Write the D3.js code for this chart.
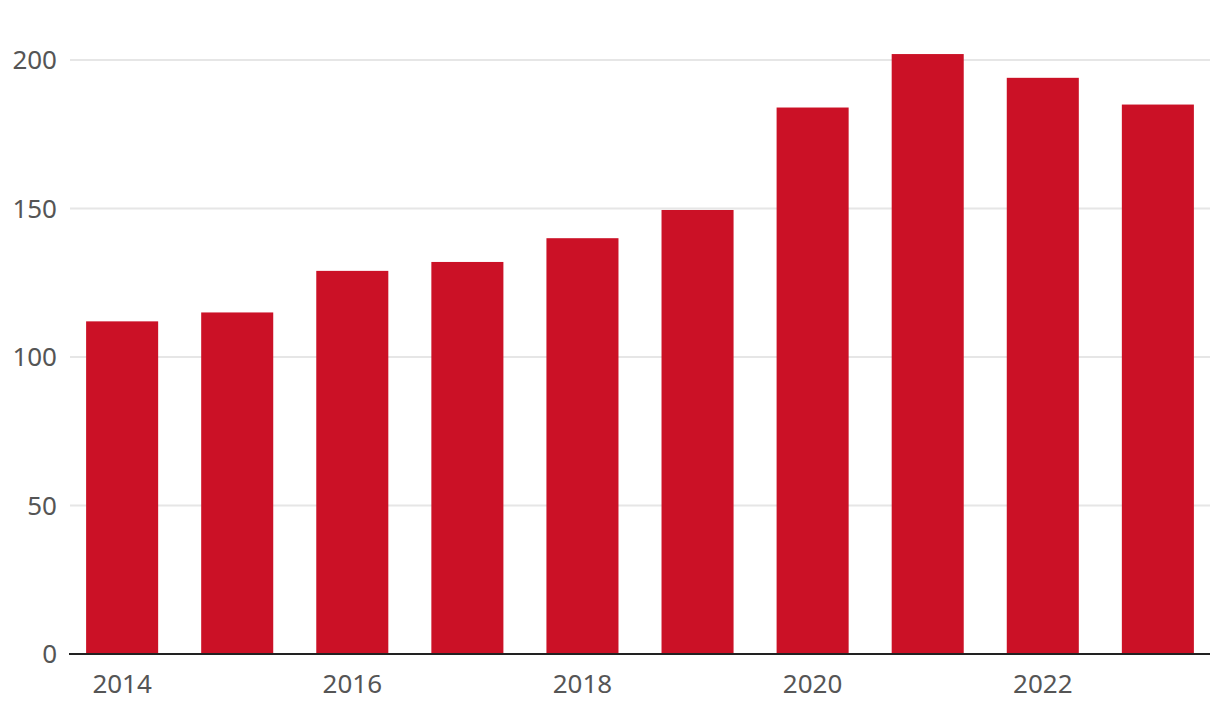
<!DOCTYPE html>
<html>
<head>
<meta charset="utf-8">
<script src="https://cdn.jsdelivr.net/npm/d3@7"></script>
<style>
  body { margin: 0; background: #fff; }
  text { font-family: "Noto Sans", sans-serif; }
</style>
</head>
<body>
<script>
// data
var years = ['2014', '2015', '2016', '2017', '2018', '2019', '2020', '2021', '2022', '2023'];
var values = [112, 115, 129, 132, 140, 149.5, 184, 202, 194, 185];
var yTicks = [0, 50, 100, 150, 200];
var xTickLabels = ['2014', '2016', '2018', '2020', '2022'];

var W = 1220, H = 718;
var plotLeft = 70, plotRight = 1210, plotTop = 60, plotBottom = 654;

var svg = d3.select('body').append('svg')
  .attr('width', W)
  .attr('height', H);

var x = d3.scaleBand().domain(years).range([plotLeft, plotRight])
  .paddingInner(0.374).paddingOuter(0.14);
var y = d3.scaleLinear().domain([0, 200]).range([plotBottom, plotTop]);

// gridlines
svg.append('g')
  .selectAll('line')
  .data(yTicks.filter(d => d > 0))
  .enter().append('line')
  .attr('x1', plotLeft).attr('x2', plotRight)
  .attr('y1', d => y(d)).attr('y2', d => y(d))
  .style('stroke', '#e6e6e6')
  .style('stroke-width', 2);

// y labels
svg.append('g')
  .selectAll('text')
  .data(yTicks)
  .enter().append('text')
  .text(d => d)
  .attr('x', 57)
  .attr('y', d => y(d))
  .attr('dy', '0.36em')
  .attr('text-anchor', 'end')
  .style('font-size', '26px')
  .style('fill', '#555');

// bars
svg.append('g')
  .selectAll('rect')
  .data(values)
  .enter().append('rect')
  .attr('x', (d, i) => x(years[i]))
  .attr('width', x.bandwidth())
  .attr('y', d => y(d))
  .attr('height', d => y(0) - y(d))
  .style('fill', '#cb1126');

// baseline
svg.append('line')
  .attr('x1', plotLeft - 1).attr('x2', plotRight)
  .attr('y1', y(0)).attr('y2', y(0))
  .style('stroke', '#222')
  .style('stroke-width', 2);

// x labels
svg.append('g')
  .selectAll('text')
  .data(xTickLabels)
  .enter().append('text')
  .text(d => d)
  .attr('x', d => x(d) + x.bandwidth() / 2)
  .attr('y', 693)
  .attr('text-anchor', 'middle')
  .style('font-size', '26px')
  .style('fill', '#555');
</script>
</body>
</html>
